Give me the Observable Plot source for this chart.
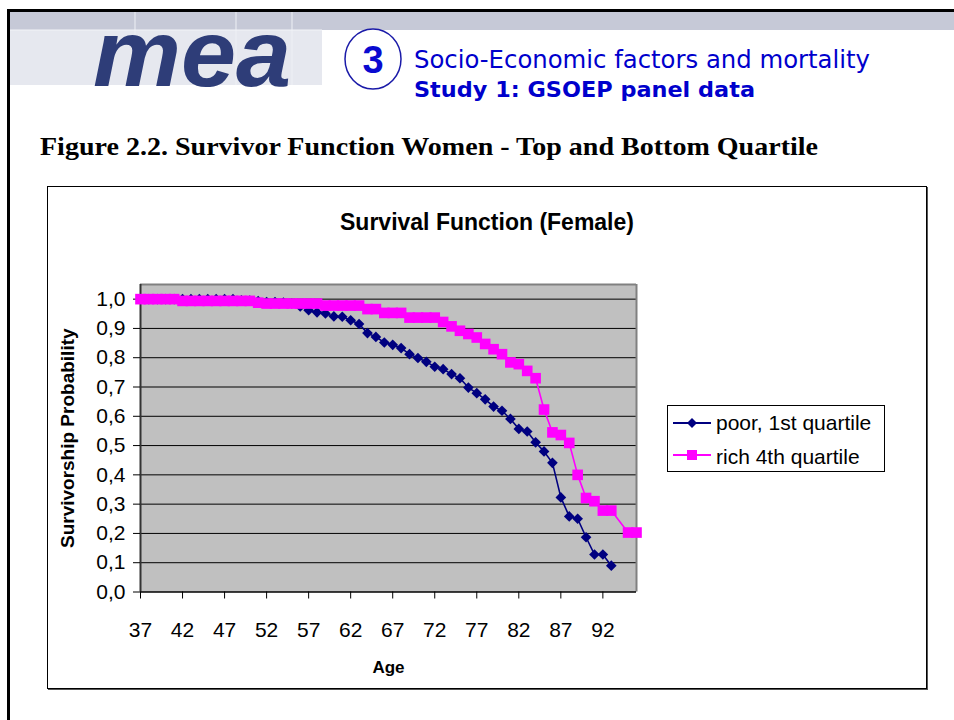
<!DOCTYPE html>
<html><head><meta charset="utf-8">
<script src="https://cdn.jsdelivr.net/npm/d3@7"></script>
<script src="https://cdn.jsdelivr.net/npm/@observablehq/plot@0.6"></script>
<style>
body{margin:0;background:#fff;}
#page{position:relative;width:954px;height:720px;overflow:hidden;background:#fff;font-family:"Liberation Sans",Arial,sans-serif;}
.abs{position:absolute;}
</style></head><body>
<div id="page">
  <svg class="abs" style="left:0;top:0" width="954" height="185">
    <rect x="9" y="12" width="945" height="18" fill="#c6c9d7"/>
    <rect x="9" y="30" width="313" height="55" fill="#e6e8ef"/>
    <line x1="135" y1="12" x2="135" y2="85" stroke="#eef0f5" stroke-width="1"/>
    <line x1="236" y1="12" x2="236" y2="85" stroke="#eef0f5" stroke-width="1"/>
    <line x1="292" y1="12" x2="292" y2="85" stroke="#eef0f5" stroke-width="1"/>
    <line x1="9" y1="30" x2="322" y2="30" stroke="#f2f3f7" stroke-width="1"/>
    <text x="93" y="86" font-family="Liberation Sans" font-weight="bold" font-style="italic" font-size="94" fill="#2e3d78" textLength="198" lengthAdjust="spacingAndGlyphs">mea</text>
    <ellipse cx="373" cy="59" rx="28" ry="30" fill="#fff" stroke="#1a1aa8" stroke-width="1.5"/>
    <text x="373" y="73" text-anchor="middle" font-family="Liberation Sans" font-weight="bold" font-size="38" fill="#0a0ad0">3</text>
    <text x="414" y="68" font-family="DejaVu Sans" font-size="24" fill="#0000cc" textLength="456" lengthAdjust="spacingAndGlyphs">Socio-Economic factors and mortality</text>
    <text x="414" y="97" font-family="DejaVu Sans" font-weight="bold" font-size="22" fill="#0000cc" textLength="341" lengthAdjust="spacingAndGlyphs">Study 1: GSOEP panel data</text>
    <text x="40" y="155" font-family="Liberation Serif" font-weight="bold" font-size="26" fill="#000" textLength="778" lengthAdjust="spacingAndGlyphs">Figure 2.2. Survivor Function Women - Top and Bottom Quartile</text>
  </svg>
  <div class="abs" style="left:7px;top:9px;width:947px;height:3px;background:#000"></div>
  <div class="abs" style="left:7px;top:9px;width:3px;height:711px;background:#000"></div>
  <div class="abs" style="left:47px;top:186px;width:878px;height:501px;border:1px solid #000;box-shadow:1px 1px 0 #555;background:#fff"></div>
  <div id="chart" class="abs" style="left:47px;top:185px"></div>
  <div class="abs" style="left:47px;top:207px;width:880px;text-align:center;font-weight:bold;font-size:23px;line-height:30px;color:#000">Survival Function (Female)</div>
  <svg class="abs" style="left:667px;top:405px" width="218" height="67">
    <rect x="0.5" y="0.5" width="217" height="66" fill="#fff" stroke="#000" stroke-width="1"/>
    <line x1="6" y1="18" x2="44" y2="18" stroke="#000080" stroke-width="2"/>
    <path d="M25,13 L30,18 L25,23 L20,18 Z" fill="#000080"/>
    <text x="49" y="19" dominant-baseline="middle" font-family="Liberation Sans" font-size="21" fill="#000">poor, 1st quartile</text>
    <line x1="6" y1="50" x2="44" y2="50" stroke="#ff00ff" stroke-width="2"/>
    <rect x="20" y="45" width="10" height="10" fill="#ff00ff"/>
    <text x="49" y="53" dominant-baseline="middle" font-family="Liberation Sans" font-size="21" fill="#000">rich 4th quartile</text>
  </svg>
</div>
<script>
const ages = [37,38,39,40,41,42,43,44,45,46,47,48,49,50,51,52,53,54,55,56,57,58,59,60,61,62,63,64,65,66,67,68,69,70,71,72,73,74,75,76,77,78,79,80,81,82,83,84,85,86,87,88,89,90,91,92,93,94,95,96];
const poorValues = [1.0,1.0,1.0,1.0,1.0,1.0,1.0,1.0,1.0,1.0,1.0,1.0,0.996,0.995,0.993,0.99,0.99,0.988,0.985,0.975,0.962,0.955,0.951,0.941,0.94,0.928,0.915,0.884,0.871,0.852,0.844,0.833,0.812,0.799,0.786,0.769,0.761,0.744,0.730,0.698,0.679,0.658,0.633,0.619,0.591,0.557,0.548,0.511,0.480,0.441,0.323,0.258,0.250,0.187,0.128,0.128,0.090,null,null,null];
const richValues = [1.0,1.0,1.0,1.0,1.0,0.994,0.994,0.994,0.994,0.994,0.994,0.994,0.994,0.994,0.988,0.985,0.985,0.985,0.985,0.985,0.985,0.985,0.978,0.978,0.978,0.978,0.978,0.966,0.966,0.953,0.953,0.953,0.937,0.937,0.937,0.937,0.922,0.907,0.892,0.881,0.869,0.847,0.829,0.812,0.784,0.778,0.755,0.730,0.623,0.545,0.536,0.509,0.400,0.321,0.310,0.278,0.278,null,0.203,0.203];
const xTicks = [37,42,47,52,57,62,67,72,77,82,87,92];
const yTicks = [0,0.1,0.2,0.3,0.4,0.5,0.6,0.7,0.8,0.9,1.0];
const seriesNames = ["poor, 1st quartile","rich 4th quartile"];

const poor = ages.map((a,i)=>({age:a, v:poorValues[i], s:seriesNames[0]})).filter(d=>d.v!=null);
const rich = ages.map((a,i)=>({age:a, v:richValues[i], s:seriesNames[1]})).filter(d=>d.v!=null);

const chart = Plot.plot({
  width: 880, height: 504,
  marginLeft: 93, marginRight: 291, marginTop: 99, marginBottom: 97.5,
  style: {fontFamily: '"Liberation Sans", Arial, sans-serif', fontSize: "21px", background: "transparent", color: "#000", overflow: "visible"},
  x: {domain: [37, 96], label: null},
  y: {domain: [0, 1.05], label: null},
  marks: [
    Plot.frame({fill: "#c0c0c0", stroke: "none"}),
    Plot.ruleY(yTicks.slice(1), {stroke: "#000", strokeWidth: 1}),
    Plot.ruleY([1.05], {stroke: "#808080", strokeWidth: 2}),
    Plot.ruleX([96], {stroke: "#808080", strokeWidth: 2}),
    Plot.ruleX([37], {stroke: "#333", strokeWidth: 2}),
    Plot.ruleY([0], {stroke: "#000", strokeWidth: 1.5}),
    Plot.axisY({ticks: yTicks, tickFormat: d => d.toFixed(1).replace(".", ","), tickSize: 7, tickPadding: 8, label: null}),
    Plot.axisX({ticks: xTicks, tickFormat: d => String(d), tickSize: 7, tickPadding: 23, label: null}),
    Plot.line(poor, {x: "age", y: "v", stroke: "#000080", strokeWidth: 1.6}),
    Plot.dot(poor, {x: "age", y: "v", symbol: "diamond2", r: 4.8, fill: "#000080"}),
    Plot.line(rich, {x: "age", y: "v", stroke: "#ff00ff", strokeWidth: 1.6}),
    Plot.dot(rich, {x: "age", y: "v", symbol: "square", r: 6, fill: "#ff00ff"}),
    Plot.text(["Age"], {text: d => d, frameAnchor: "bottom", lineAnchor: "middle", dy: 75.5, fontWeight: "bold", fontSize: 17}),
    Plot.text(["Survivorship Probability"], {text: d => d, frameAnchor: "left", textAnchor: "middle", lineAnchor: "middle", dx: -73, rotate: -90, fontWeight: "bold", fontSize: 19})
  ]
});
document.getElementById("chart").appendChild(chart);
</script>
</body></html>
